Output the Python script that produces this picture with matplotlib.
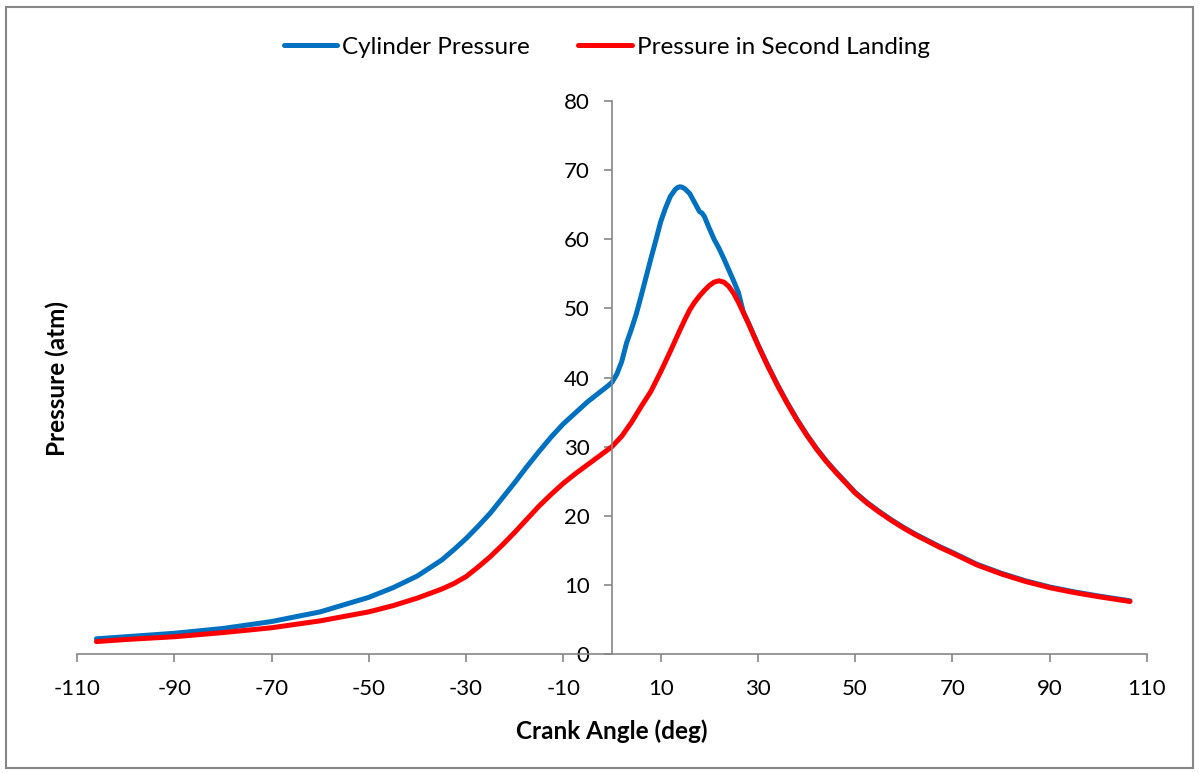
import matplotlib.pyplot as plt
from matplotlib.patches import Rectangle

plt.rcParams['font.family'] = ['Lato', 'DejaVu Sans']

# crank angle (deg) / pressure (atm)
cyl_angle = [-106, -100, -90, -80, -70, -60, -50, -45, -40, -35, -32.5, -30, -27.5,
             -25, -22.5, -20, -17.5, -15, -12.5, -10, -7.5, -5, -3, -1, 0, 1, 2,
             3, 4, 5, 6, 7, 8, 9, 10, 11, 12, 13, 13.5, 14, 14.5, 15, 16, 17, 18,
             18.5, 19, 20, 21, 22, 23, 24, 25, 26, 27, 28, 30, 32, 34, 36, 38,
             40, 42, 44, 46, 48, 50, 52.5, 55, 57.5, 60, 62.5, 65, 67.5, 70, 75,
             80, 85, 90, 95, 100, 106.5]
cyl_press = [2.2, 2.5, 3.0, 3.7, 4.7, 6.1, 8.2, 9.6, 11.3, 13.6, 15.1, 16.7, 18.5,
             20.4, 22.6, 24.8, 27.1, 29.3, 31.4, 33.3, 34.9, 36.5, 37.6, 38.7, 39.3,
             40.5, 42.3, 45.0, 47.0, 49.2, 51.8, 54.5, 57.2, 59.8, 62.5, 64.5, 66.2,
             67.2, 67.5, 67.6, 67.5, 67.3, 66.6, 65.3, 64.0, 63.8, 63.3, 61.6, 60.0,
             58.7, 57.2, 55.6, 54.0, 52.3, 49.5, 48.0, 44.8, 41.8, 39.0, 36.4, 34.0,
             31.8, 29.8, 28.0, 26.4, 24.9, 23.4, 21.9, 20.6, 19.4, 18.3, 17.3, 16.4,
             15.5, 14.7, 13.0, 11.7, 10.6, 9.7, 9.0, 8.4, 7.7]

land_angle = [-106, -100, -90, -80, -70, -60, -50, -45, -40, -35, -32.5, -30, -27.5,
              -25, -22.5, -20, -17.5, -15, -12.5, -10, -7.5, -5, -2.5, 0, 2, 4, 6,
              8, 10, 12, 14, 15, 16, 17, 18, 19, 20, 21, 22, 23, 24, 25, 26, 27, 28,
              30, 32, 34, 36, 38, 40, 42, 44, 46, 48, 50, 52.5, 55, 57.5, 60, 62.5,
              65, 67.5, 70, 75, 80, 85, 90, 95, 100, 106.5]
land_press = [1.8, 2.1, 2.5, 3.1, 3.8, 4.8, 6.1, 7.0, 8.1, 9.4, 10.2, 11.2, 12.6,
              14.1, 15.8, 17.6, 19.5, 21.4, 23.1, 24.7, 26.1, 27.4, 28.7, 30.0, 31.5,
              33.5, 35.8, 38.0, 40.8, 43.8, 46.9, 48.4, 49.8, 50.9, 51.8, 52.6, 53.3,
              53.8, 54.0, 53.8, 53.2, 52.2, 50.9, 49.4, 47.9, 44.7, 41.7, 38.9, 36.3,
              33.9, 31.7, 29.7, 27.9, 26.3, 24.8, 23.3, 21.8, 20.5, 19.3, 18.2, 17.2,
              16.3, 15.4, 14.6, 12.9, 11.6, 10.5, 9.6, 8.9, 8.3, 7.6]

xticks = list(range(-110, 111, 20))
yticks = list(range(0, 81, 10))

grey = '#868686'

fig = plt.figure(figsize=(11.99, 7.73), dpi=100)
ax = fig.add_axes([0.0642, 0.1539, 0.8924, 0.7154])

ax.plot(cyl_angle, cyl_press, color='#0070C0', lw=3.6, solid_capstyle='round',
        solid_joinstyle='round', label='Cylinder Pressure')
ax.plot(land_angle, land_press, color='#FF0000', lw=3.6, solid_capstyle='round',
        solid_joinstyle='round', label='Pressure in Second Landing')

ax.set_xlim(-110, 110)
ax.set_ylim(0, 80)
ax.set_xticks(xticks)
ax.set_yticks(yticks)
ax.set_xticklabels([str(t) for t in xticks])

# y axis sits at zero crank angle
ax.spines['left'].set_position(('data', 0))
ax.spines['right'].set_visible(False)
ax.spines['top'].set_visible(False)
for s in ('left', 'bottom'):
    ax.spines[s].set_color(grey)
    ax.spines[s].set_linewidth(1.2)
ax.tick_params(axis='both', direction='out', length=6, width=1.2, color=grey,
               labelsize=16, labelcolor='black')
ax.tick_params(axis='x', pad=12)
ax.tick_params(axis='y', pad=10)

fig.text(0.0475, 0.510, 'Pressure (atm)', rotation=90, ha='center', va='center',
         fontsize=17.5, fontweight='bold')
fig.text(0.5105, 0.054, 'Crank Angle (deg)', ha='center', va='center',
         fontsize=17.5, fontweight='bold')

fig.legend(loc='center', bbox_to_anchor=(0.506, 0.939), ncol=2, frameon=False,
           fontsize=17.5, handlelength=2.2, handletextpad=0.2, columnspacing=2.0)

fig.patches.append(Rectangle((0.005, 0.006), 0.99, 0.985, transform=fig.transFigure,
                             fill=False, edgecolor=grey, lw=1.5))

fig.savefig('out.png', dpi=100)
